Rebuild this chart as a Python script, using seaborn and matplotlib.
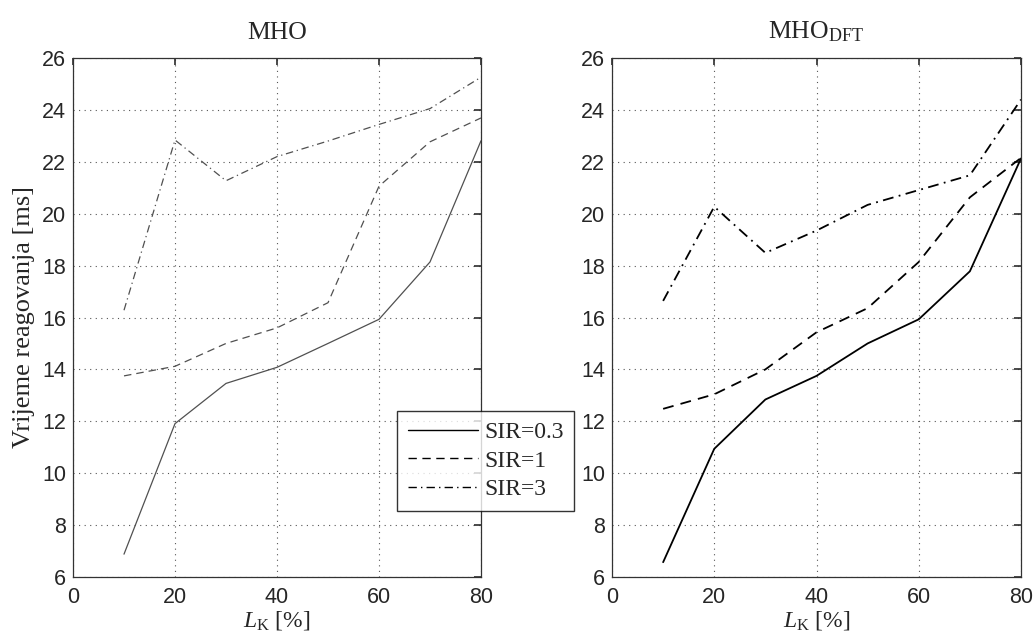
import matplotlib
matplotlib.use("Agg")
import matplotlib.pyplot as plt
from matplotlib.lines import Line2D
import seaborn as sns
import pandas as pd

sns.set_theme(style="white")
plt.rcParams['font.family'] = ['Liberation Sans', 'DejaVu Sans']
plt.rcParams['mathtext.fontset'] = 'custom'
plt.rcParams['mathtext.rm'] = 'Liberation Serif'
plt.rcParams['mathtext.it'] = 'Liberation Serif:italic'

lk = [10, 20, 30, 40, 50, 60, 70, 80]
sir_labels = ["SIR=0.3", "SIR=1", "SIR=3"]

mho_sir03 = [6.88, 11.91, 13.46, 14.08, 15.0, 15.93, 18.14, 22.81]
mho_sir1 = [13.75, 14.12, 15.0, 15.6, 16.57, 21.06, 22.77, 23.69]
mho_sir3 = [16.28, 22.84, 21.27, 22.2, 22.8, 23.44, 24.05, 25.26]

dft_sir03 = [6.57, 10.94, 12.84, 13.75, 15.0, 15.93, 17.78, 22.13]
dft_sir1 = [12.48, 13.04, 14.0, 15.43, 16.36, 18.14, 20.63, 22.15]
dft_sir3 = [16.64, 20.27, 18.49, 19.35, 20.34, 20.91, 21.48, 24.4]

titles = ["MHO", r"MHO$_{\mathrm{DFT}}$"]
xticks = [0, 20, 40, 60, 80]
yticks = [6, 8, 10, 12, 14, 16, 18, 20, 22, 24, 26]

styles = ['-', (0, (6, 4)), (0, (6, 3, 1, 3))]

fig = plt.figure(figsize=(10.36, 6.41), dpi=100)
ax1 = fig.add_axes([73/1036, 64/641, 408/1036, 519/641])
ax2 = fig.add_axes([612/1036, 64/641, 409/1036, 519/641])

panels = [
    (ax1, [mho_sir03, mho_sir1, mho_sir3], '#505050', 0.9),
    (ax2, [dft_sir03, dft_sir1, dft_sir3], 'black', 1.3),
]

serif = ['Liberation Serif', 'DejaVu Serif']

for i, (ax, series, col, lw) in enumerate(panels):
    for vals, ls, lab in zip(series, styles, sir_labels):
        df = pd.DataFrame({"LK": lk, "t": vals})
        sns.lineplot(data=df, x="LK", y="t", ax=ax, color=col, linewidth=lw,
                     linestyle=ls, legend=False)
    ax.set_xlim(0, 80)
    ax.set_ylim(6, 26)
    ax.set_xticks(xticks)
    ax.set_yticks(yticks)
    ax.grid(True, linestyle=(0, (1, 4)), color='#555555', linewidth=0.8)
    ax.tick_params(direction='in', top=True, right=True, length=5,
                   labelsize=15.5, color='#333333')
    ax.tick_params(axis='x', pad=7)
    ax.tick_params(axis='y', pad=5)
    for sp in ax.spines.values():
        sp.set_color('#333333')
        sp.set_linewidth(0.9)
    ax.set_xlabel(r"$L_{\mathrm{K}}$ [%]", fontsize=17, family=serif, labelpad=1)
    ax.set_ylabel("")
    ax.set_title(titles[i], fontsize=18.5, family=serif, pad=14)

ax1.set_ylabel("Vrijeme reagovanja [ms]", fontsize=19, family=serif, labelpad=5)

handles = [Line2D([0], [0], color='black', linewidth=1.0, linestyle=ls) for ls in styles]
leg = fig.legend(handles, sir_labels, loc='upper left',
                 bbox_to_anchor=(397/1036, 1 - 411/641),
                 prop={'family': serif, 'size': 17}, frameon=True,
                 fancybox=False, handlelength=3.0, borderpad=0.45,
                 labelspacing=0.3, handletextpad=0.25, borderaxespad=0)
leg.get_frame().set_edgecolor('black')
leg.get_frame().set_linewidth(1.0)
leg.set_zorder(10)

fig.savefig("out.png", dpi=100)
